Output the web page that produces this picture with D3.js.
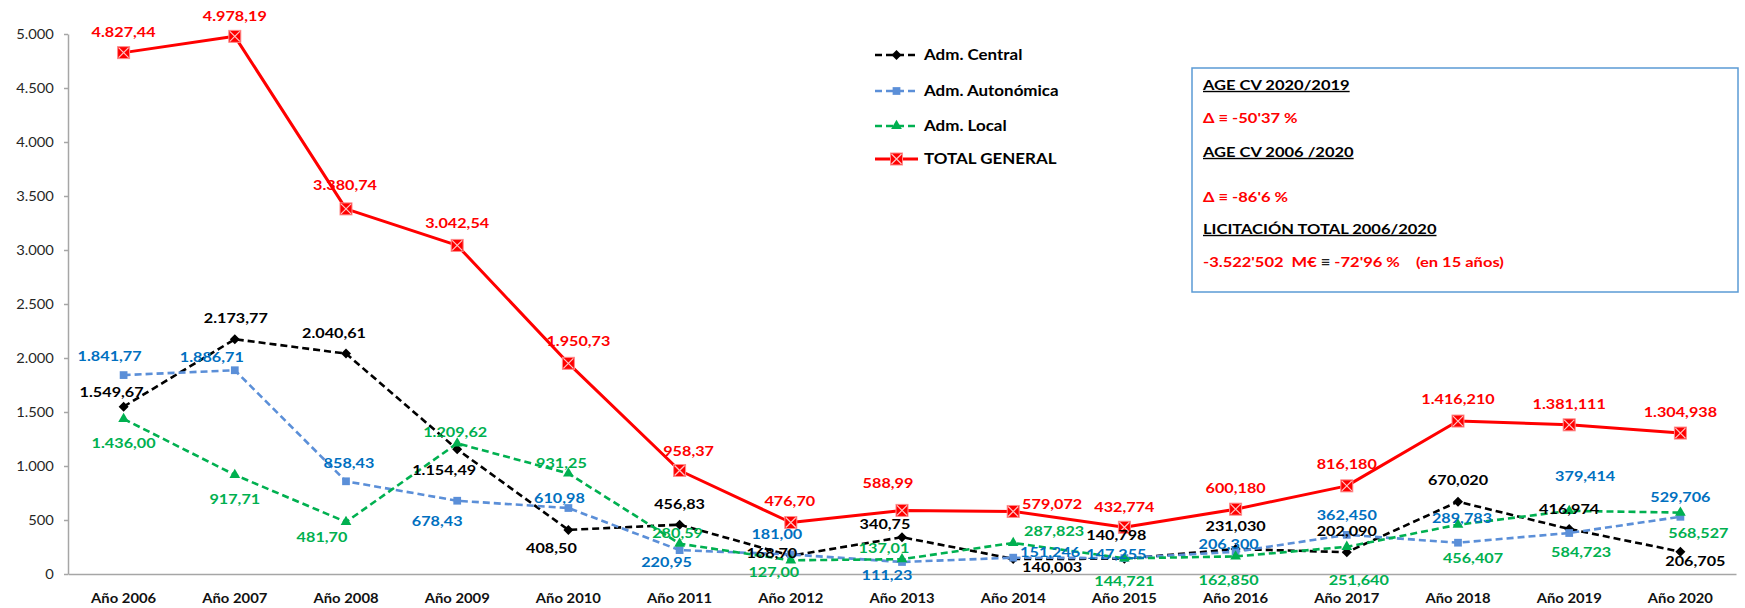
<!DOCTYPE html>
<html lang="es">
<head>
<meta charset="UTF-8">
<title>Licitación AGE CV 2006-2020</title>
<script src="https://cdn.jsdelivr.net/npm/d3@7"></script>
<style>
  body { margin: 0; background: #fff; }
  svg text { font-family: Lato, "Open Sans", sans-serif; }
</style>
</head>
<body>
<svg id="chart"></svg>
<script>
// categories
const years = ["Año 2006", "Año 2007", "Año 2008", "Año 2009", "Año 2010", "Año 2011", "Año 2012", "Año 2013",
               "Año 2014", "Año 2015", "Año 2016", "Año 2017", "Año 2018", "Año 2019", "Año 2020"];
const yTicks = [0, 500, 1000, 1500, 2000, 2500, 3000, 3500, 4000, 4500, 5000];

// series values (M€)
const central = [1549.67, 2173.77, 2040.61, 1154.49, 408.50, 456.83, 168.70, 340.75, 140.003, 140.798, 231.030, 202.090, 670.020, 416.974, 206.705];
const autonomica = [1841.77, 1886.71, 858.43, 678.43, 610.98, 220.95, 181.00, 111.23, 151.246, 147.255, 206.300, 362.450, 289.783, 379.414, 529.706];
const local = [1436.00, 917.71, 481.70, 1209.62, 931.25, 280.59, 127.00, 137.01, 287.823, 144.721, 162.850, 251.640, 456.407, 584.723, 568.527];
const total = [4827.44, 4978.19, 3380.74, 3042.54, 1950.73, 958.37, 476.70, 588.99, 579.072, 432.774, 600.180, 816.180, 1416.210, 1381.111, 1304.938];

// data labels as printed on the chart
const centralLabels = ["1.549,67", "2.173,77", "2.040,61", "1.154,49", "408,50", "456,83", "168,70", "340,75", "140,003", "140,798", "231,030", "202,090", "670,020", "416,974", "206,705"];
const autonomicaLabels = ["1.841,77", "1.886,71", "858,43", "678,43", "610,98", "220,95", "181,00", "111,23", "151,246", "147,255", "206,300", "362,450", "289,783", "379,414", "529,706"];
const localLabels = ["1.436,00", "917,71", "481,70", "1.209,62", "931,25", "280,59", "127,00", "137,01", "287,823", "144,721", "162,850", "251,640", "456,407", "584,723", "568,527"];
const totalLabels = ["4.827,44", "4.978,19", "3.380,74", "3.042,54", "1.950,73", "958,37", "476,70", "588,99", "579,072", "432,774", "600,180", "816,180", "1.416,210", "1.381,111", "1.304,938"];

// label nudges in px (layout only)
const centralNudge = [[-12,-14],[1,-21],[-12,-20],[-13,21],[-17,18],[0,-20],[-19,-3],[-17,-13],[39,8],[-8,-24],[0,-23],[0,-21],[0,-21],[0,-20],[15,10]];
const autonomicaNudge = [[-14,-19],[-23,-13],[3,-18],[-20,21],[-9,-10],[-13,12],[-14,-20],[-15,13],[37,-5],[-8,-4],[-7,-7],[0,-20],[4,-24],[16,-57],[0,-20]];
const localNudge = [[0,24],[0,24],[-24,15],[-2,-11],[-7,-10],[-2,-10],[-17,12],[-18,-11],[41,-12],[0,23],[-7,24],[12,33],[15,34],[12,41],[18,21]];
const totalNudge = [[0,-20],[0,-20],[-1,-24],[0,-22],[10,-22],[9,-19],[-1,-21],[-14,-27],[39,-7],[0,-20],[0,-21],[0,-22],[0,-22],[0,-21],[0,-21]];

const W = 1745, H = 608;
const svg = d3.select("#chart").attr("width", W).attr("height", H);
svg.append("rect").attr("width", W).attr("height", H).attr("fill", "#fff");

const x = d3.scaleBand().domain(years).range([68, 1736]);
const y = d3.scaleLinear().domain([0, 5000]).range([574, 34]);
const cx = i => x(years[i]) + x.bandwidth() / 2;

const series = [
  {name: "Adm. Central", values: central, labels: centralLabels, nudge: centralNudge, line: "#000000", text: "#000000", dash: "7,4", width: 2.6, marker: "diamond"},
  {name: "Adm. Autonómica", values: autonomica, labels: autonomicaLabels, nudge: autonomicaNudge, line: "#5b8fd8", text: "#0070c0", dash: "7,4", width: 2.6, marker: "square"},
  {name: "Adm. Local", values: local, labels: localLabels, nudge: localNudge, line: "#00b050", text: "#00b050", dash: "7,4", width: 2.6, marker: "triangle"},
  {name: "TOTAL GENERAL", values: total, labels: totalLabels, nudge: totalNudge, line: "#ff0000", text: "#ff0000", dash: null, width: 3, marker: "total"}
];

function drawMarker(g, s) {
  if (s.marker === "total") {
    g.append("rect").attr("x", -6).attr("y", -6).attr("width", 12).attr("height", 12)
      .attr("fill", "#ff0000").attr("stroke", "#ff8c8c").attr("stroke-width", 1);
    g.append("path").attr("d", "M-5,-5L5,5M5,-5L-5,5")
      .attr("stroke", "#ffc4c4").attr("stroke-width", 1.2);
  } else if (s.marker === "diamond") {
    g.append("path").attr("d", "M0,-5L5,0L0,5L-5,0Z").attr("fill", s.line);
  } else if (s.marker === "square") {
    g.append("path").attr("d", d3.symbol(d3.symbolSquare, 60)()).attr("fill", s.line);
  } else {
    g.append("path").attr("d", d3.symbol(d3.symbolTriangle, 50)()).attr("fill", s.line);
  }
}

// axes
const fmt = d3.formatLocale({decimal: ",", thousands: ".", grouping: [3], currency: ["", ""]}).format(",d");
const yAxis = svg.append("g").attr("transform", "translate(68,0)")
  .call(d3.axisLeft(y).tickValues(yTicks).tickFormat(fmt).tickSize(4).tickSizeOuter(0).tickPadding(8));
yAxis.attr("font-family", null);
yAxis.selectAll("path, line").attr("stroke", "#a6a6a6").attr("stroke-width", 1.5);
yAxis.selectAll("text").attr("font-size", 12.5).attr("fill", "#262626").attr("transform", "scale(1.18,1)");

const xAxis = svg.append("g").attr("transform", "translate(0,574)")
  .call(d3.axisBottom(x).tickSize(0).tickSizeOuter(0));
xAxis.attr("font-family", null);
xAxis.select(".domain").attr("stroke", "#a6a6a6").attr("stroke-width", 1.5);
xAxis.selectAll("text").attr("y", 0).attr("dy", "0.35em")
  .attr("font-size", 14).attr("font-weight", "bold").attr("fill", "#111")
  .attr("transform", "translate(0,24) scale(1.06,1)");
svg.selectAll(".domain").attr("fill", "none");

// lines + markers
const line = d3.line().x((d, i) => cx(i)).y(d => y(d));
series.forEach(s => {
  svg.append("path").datum(s.values).attr("d", line)
    .attr("fill", "none").attr("stroke", s.line).attr("stroke-width", s.width)
    .attr("stroke-dasharray", s.dash).attr("stroke-linejoin", "round");
  s.values.forEach((v, i) => {
    drawMarker(svg.append("g").attr("transform", `translate(${cx(i)},${y(v)})`), s);
  });
});

// data labels
const labels = svg.append("g");
series.forEach(s => {
  labels.selectAll(null).data(s.values).join("text")
    .attr("transform", (d, i) => `translate(${cx(i) + s.nudge[i][0]},${y(d) + s.nudge[i][1]}) scale(1.2,1)`)
    .attr("text-anchor", "middle").attr("dy", "0.35em")
    .attr("font-size", 13.5).attr("font-weight", "bold").attr("fill", s.text)
    .text((d, i) => s.labels[i]);
});

// legend
const legendY = [55, 91, 126, 159];
series.forEach((s, k) => {
  const g = svg.append("g").attr("transform", `translate(875,${legendY[k]})`);
  g.append("line").attr("x1", 0).attr("x2", 43)
    .attr("stroke", s.line).attr("stroke-width", s.width).attr("stroke-dasharray", s.dash);
  drawMarker(g.append("g").attr("transform", "translate(21.5,0)"), s);
  g.append("text").attr("transform", "translate(49,0) scale(1.13,1)").attr("dy", "0.35em")
    .attr("font-size", 15).attr("font-weight", "bold").attr("fill", "#000").text(s.name);
});

// annotation box
const notes = [
  {y: 85, parts: [["AGE CV 2020/2019", "#000"]], underline: true},
  {y: 118, parts: [["Δ ≡ -50'37 %", "#ff0000"]]},
  {y: 152, parts: [["AGE CV 2006 /2020", "#000"]], underline: true},
  {y: 197, parts: [["Δ ≡ -86'6 %", "#ff0000"]]},
  {y: 229, parts: [["LICITACIÓN TOTAL 2006/2020", "#000"]], underline: true},
  {y: 262, parts: [["-3.522'502  M€ ", "#ff0000"], ["≡", "#222"], [" -72'96 %    (en 15 años)", "#ff0000"]]}
];
svg.append("rect").attr("x", 1192).attr("y", 68).attr("width", 546).attr("height", 224)
  .attr("fill", "#fff").attr("stroke", "#5b9bd5").attr("stroke-width", 1.5);
notes.forEach(n => {
  const t = svg.append("text").attr("transform", `translate(1203,${n.y}) scale(1.18,1)`).attr("dy", "0.35em")
    .attr("font-size", 14).attr("font-weight", "bold").style("white-space", "pre")
    .attr("text-decoration", n.underline ? "underline" : null);
  n.parts.forEach(p => t.append("tspan").attr("fill", p[1]).text(p[0]));
});
</script>
</body>
</html>
